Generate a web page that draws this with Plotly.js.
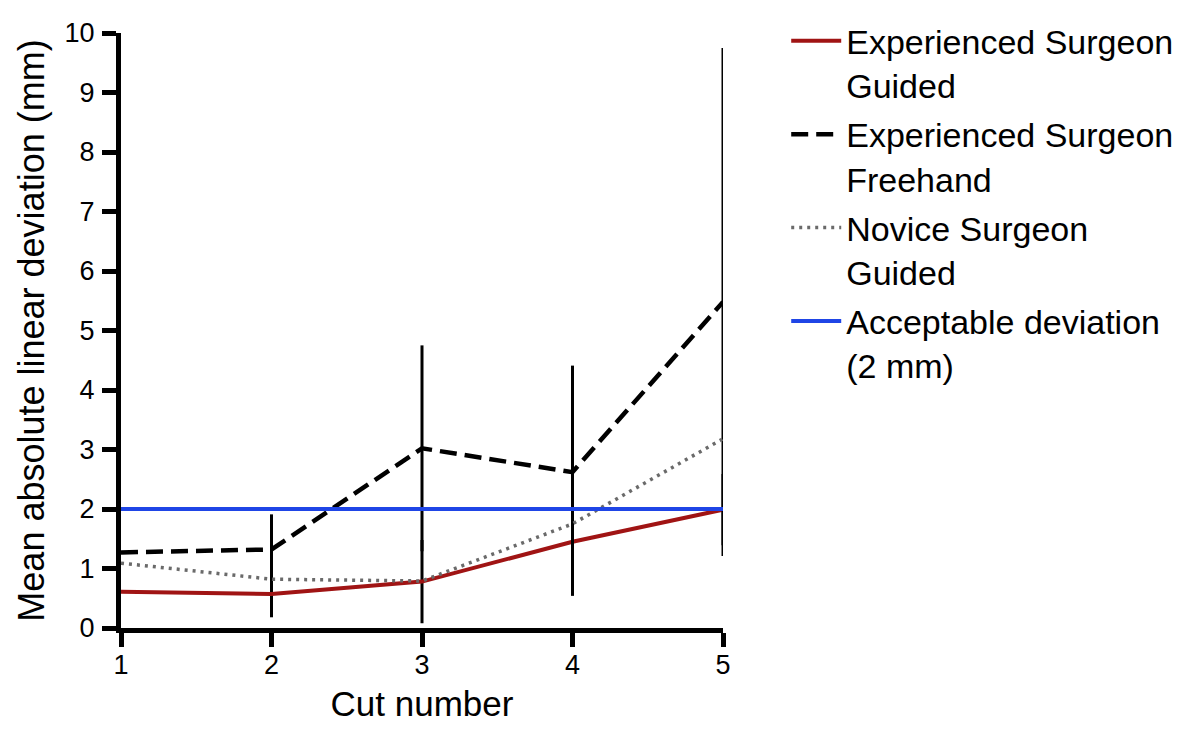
<!DOCTYPE html>
<html>
<head>
<meta charset="utf-8">
<script src="https://cdn.plot.ly/plotly-3.0.1.min.js"></script>
<style>
  body { margin: 0; background: #fff; }
  #chart { width: 1193px; height: 737px; }
</style>
</head>
<body>
<div id="chart"></div>
<script>
// cut numbers on the x axis
var cuts = [1, 2, 3, 4, 5];

// mean absolute linear deviation (mm)
var expGuided = [0.61, 0.57, 0.78, 1.45, 1.99];
var expGuidedErr = [0, 0.39, 0.70, 0.91, 0.6];
var expFreehand = [1.27, 1.32, 3.02, 2.62, 5.48];
var expFreehandErr = [0, 0.59, 1.73, 1.79, 4.27];
var noviceGuided = [1.09, 0.82, 0.79, 1.75, 3.18];

// acceptable threshold line
var limitX = [1, 5];
var limitY = [2, 2];

var fontName = 'Liberation Sans, Arial, sans-serif';

var traces = [
  {
    x: cuts, y: expGuided, mode: 'lines', legendgroup: 'a',
    name: 'Experienced Surgeon<br>Guided',
    line: {color: '#a01414', width: 4},
    error_y: {type: 'data', array: expGuidedErr, visible: true, color: '#000', thickness: 3, width: 0}
  },
  {
    x: cuts, y: expFreehand, mode: 'lines', legendgroup: 'b',
    name: 'Experienced Surgeon<br>Freehand',
    line: {color: '#000', width: 4.5, dash: '17px,8px'},
    error_y: {type: 'data', array: expFreehandErr, visible: true, color: '#000', thickness: 3, width: 0}
  },
  {
    x: cuts, y: noviceGuided, mode: 'lines', legendgroup: 'c',
    name: 'Novice Surgeon<br>Guided',
    line: {color: '#6a6a6a', width: 3.5, dash: '3px,5px'}
  },
  {
    x: limitX, y: limitY, mode: 'lines', legendgroup: 'd',
    name: 'Acceptable deviation<br>(2 mm)',
    line: {color: '#1f45e6', width: 4}
  }
];

var layout = {
  width: 1193, height: 737,
  margin: {l: 121, r: 470, t: 22, b: 109},
  paper_bgcolor: '#fff', plot_bgcolor: '#fff',
  font: {family: fontName, color: '#000'},
  showlegend: true,
  legend: {
    x: 1.105, y: 1.035, xanchor: 'left', yanchor: 'top',
    font: {family: fontName, size: 34, color: '#000'},
    tracegroupgap: 2,
    itemwidth: 50,
    valign: 'top',
    maxheight: 700
  },
  xaxis: {
    range: [1, 5], tickvals: cuts, ticktext: ['1', '2', '3', '4', '5'],
    showgrid: false, zeroline: false,
    showline: true, linecolor: '#000', linewidth: 5,
    ticks: 'outside', ticklen: 14, tickwidth: 5, tickcolor: '#000',
    ticklabelstandoff: -5,
    tickfont: {family: fontName, size: 27},
    title: {text: 'Cut number', font: {size: 35}, standoff: 14}
  },
  yaxis: {
    range: [0, 10], dtick: 1,
    showgrid: false, zeroline: false,
    showline: true, linecolor: '#000', linewidth: 5,
    ticks: 'outside', ticklen: 14, tickwidth: 5, tickcolor: '#000',
    ticklabelstandoff: 2,
    tickfont: {family: fontName, size: 27},
    title: {text: 'Mean absolute linear deviation (mm)', font: {size: 36}, standoff: 10}
  }
};

Plotly.newPlot('chart', traces, layout, {displayModeBar: false});
</script>
</body>
</html>
